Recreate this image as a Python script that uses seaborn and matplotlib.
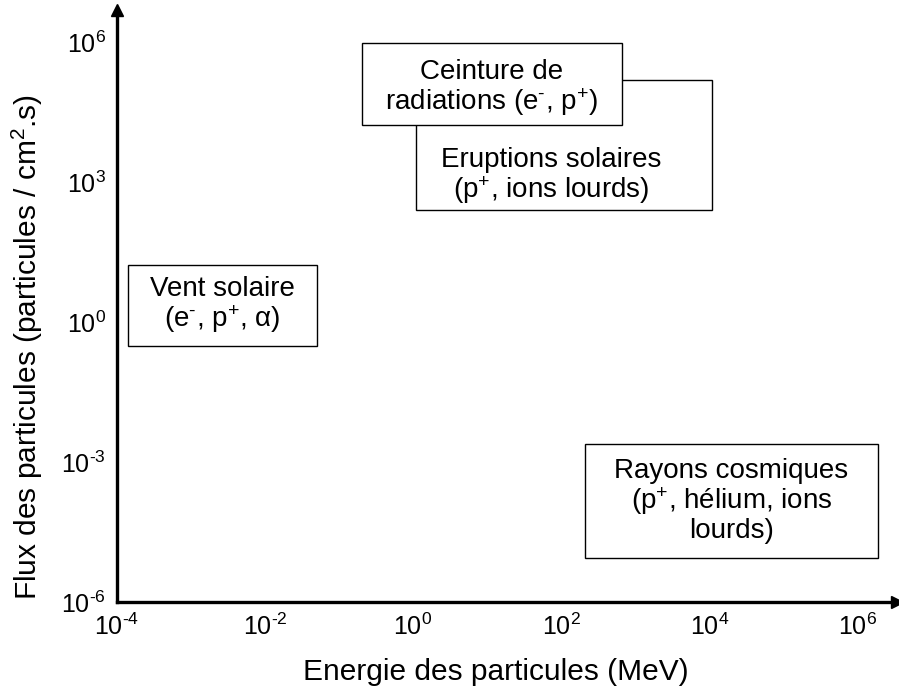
"""Particle flux vs energy overview (space radiation environment)."""

import matplotlib.pyplot as plt
import numpy as np
import pandas as pd
import seaborn as sns
from matplotlib.patches import Rectangle

# source regions: energy range (MeV) and flux range (particles / cm2.s)
sources = ["Ceinture de\nradiations (e$^{\u2010}$, p$^{+}$)",
           "Eruptions solaires\n(p$^{+}$, ions lourds)",
           "Vent solaire\n(e$^{\u2010}$, p$^{+}$, α)",
           "Rayons cosmiques\n(p$^{+}$, hélium, ions\nlourds)"]
e_min = [10**-0.69, 10**0.04, 10**-3.85, 10**2.32]
e_max = [10**2.82, 10**4.04, 10**-1.30, 10**6.28]
f_min = [10**4.22, 10**2.40, 10**-0.51, 10**-5.06]
f_max = [10**5.98, 10**5.18, 10**1.22, 10**-2.61]

x_ticks = [1e-4, 1e-2, 1e0, 1e2, 1e4, 1e6]
y_ticks = [1e-6, 1e-3, 1e0, 1e3, 1e6]

df = pd.DataFrame({"source": sources, "e_min": e_min, "e_max": e_max,
                   "f_min": f_min, "f_max": f_max})


def exp_label(v):
    p = int(np.log10(v))
    s = str(abs(p)) if p >= 0 else "\u2010" + str(abs(p))
    return "10$^{" + s + "}$"


sns.set_theme(style="white")
plt.rcParams["font.family"] = ["Liberation Sans", "DejaVu Sans"]
plt.rcParams["text.color"] = "black"
plt.rcParams["mathtext.fontset"] = "custom"
plt.rcParams["mathtext.rm"] = "Liberation Sans"
plt.rcParams["mathtext.it"] = "Liberation Sans:italic"
plt.rcParams["mathtext.bf"] = "Liberation Sans:bold"

fig = plt.figure(figsize=(8.99, 7.0), dpi=100)
ax = fig.add_axes([0.130, 0.14, 0.868, 0.846])
ax.set_xscale("log")
ax.set_yscale("log")
ax.set_xlim(1e-4, 10**6.54)
ax.set_ylim(1e-6, 10**6.69)

# boxes, drawn back to front (radiation belt sits over the solar flares box)
order = [1, 0, 2, 3]
for z, i in enumerate(order):
    r = df.iloc[i]
    ax.add_patch(Rectangle((r.e_min, r.f_min), r.e_max - r.e_min, r.f_max - r.f_min,
                           facecolor="white", edgecolor="black", lw=1.0, zorder=3 + z))
    lx = np.sqrt(r.e_min * r.e_max)
    ly = np.sqrt(r.f_min * r.f_max)
    if i == 1:
        # text sits in the lower part, below the overlapping box
        lx, ly = 10**1.87, 10**3.12
    if i == 0:
        ly = ly / 10**0.09
    ax.text(lx, ly, r.source, ha="center", va="center", fontsize=20,
            linespacing=1.05, color="black", zorder=3 + z)

ax.set_xticks(x_ticks)
ax.set_yticks(y_ticks)
ax.set_xticklabels([exp_label(v) for v in x_ticks])
ax.set_yticklabels([exp_label(v) for v in y_ticks])
ax.minorticks_off()
ax.tick_params(axis="both", length=0, labelsize=18, colors="black")
ax.tick_params(axis="x", pad=8)
ax.tick_params(axis="y", pad=8)

sns.despine(ax=ax)
for s in ["left", "bottom"]:
    ax.spines[s].set_linewidth(2.4)
    ax.spines[s].set_color("black")
ax.plot(1, 0, ">", color="black", ms=8, transform=ax.transAxes, clip_on=False)
ax.plot(0, 1, "^", color="black", ms=8, transform=ax.transAxes, clip_on=False)

ax.set_xlabel("Energie des particules (MeV)", fontsize=21.5, color="black")
ax.set_ylabel("Flux des particules (particules / cm$^2$.s)", fontsize=21.5,
              color="black")
ax.xaxis.set_label_coords(0.486, -0.095)
ax.yaxis.set_label_coords(-0.092, 0.431)

fig.savefig("out.png", dpi=100)
